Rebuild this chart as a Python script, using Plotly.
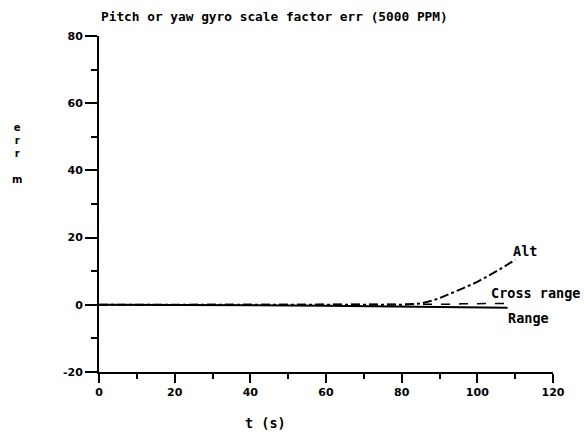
import plotly.graph_objects as go

t = [0, 10, 20, 30, 40, 50, 60, 70, 80, 85, 88, 90, 93, 96, 100, 103, 106, 108, 110]
range_err = [0, 0, 0, 0, -0.1, -0.2, -0.3, -0.4, -0.5, -0.5, -0.6, -0.6, -0.7, -0.7, -0.8, -0.8, -0.9, -0.9, None]
cross_err = [0, 0, 0, 0, 0, 0, 0, 0, 0.1, 0.1, 0.2, 0.2, 0.2, 0.3, 0.3, 0.3, 0.4, 0.4, None]
alt_err = [0, 0, 0, 0, 0, 0, 0, 0, 0, 0.4, 1.2, 2.0, 3.3, 4.8, 6.8, 8.6, 10.6, 12.0, 13.4]

mono = "DejaVu Sans Mono, monospace"
sans = "DejaVu Sans, Liberation Sans, sans-serif"
label_font = dict(family=mono, size=13.5, color="black")
title_font = dict(family=mono, size=12.8, color="black")
tick_font = dict(family=sans, size=11, color="black")

fig = go.Figure()
fig.add_trace(go.Scatter(x=t, y=range_err, mode="lines",
                         line=dict(color="black", width=2, dash="solid"), name="Range"))
fig.add_trace(go.Scatter(x=t, y=cross_err, mode="lines",
                         line=dict(color="black", width=1.5, dash="dash"), name="Cross range"))
fig.add_trace(go.Scatter(x=t, y=alt_err, mode="lines",
                         line=dict(color="black", width=2, dash="dashdot"), name="Alt"))

labels = [("Alt", 109, 16), ("Cross range", 103, 3.5), ("Range", 107.5, -3.8)]
for txt, x, y in labels:
    fig.add_annotation(x=x, y=y, text="<b>%s</b>" % txt, showarrow=False,
                       xanchor="left", yanchor="middle", font=label_font)

fig.add_annotation(xref="paper", yref="paper", x=0.0, y=1.057, text="<b>Pitch or yaw gyro scale factor err (5000 PPM)</b>",
                   showarrow=False, xanchor="left", yanchor="middle", font=title_font)
fig.add_annotation(xref="paper", yref="paper", x=0.366, y=-0.152, text="<b>t (s)</b>",
                   showarrow=False, xanchor="center", yanchor="middle", font=label_font)
fig.add_annotation(xref="paper", yref="paper", x=-0.18, y=0.65,
                   text="<b>e<br>r<br>r<br><br>m</b>", showarrow=False,
                   xanchor="center", yanchor="middle", font=dict(family=sans, size=10, color="black"))

axis_common = dict(showline=True, linecolor="black", linewidth=2, showgrid=False, zeroline=False,
                   ticks="outside", tickcolor="black", tickwidth=2, tickfont=tick_font, automargin=False)

fig.update_xaxes(range=[0, 120], tickvals=[0, 20, 40, 60, 80, 100, 120],
                 ticktext=["<b>%d</b>" % v for v in [0, 20, 40, 60, 80, 100, 120]],
                 ticklen=9,
                 minor=dict(ticks="outside", tickvals=[10, 30, 50, 70, 90, 110], ticklen=5, tickcolor="black", tickwidth=2),
                 **axis_common)
fig.update_yaxes(range=[-20, 80], tickvals=[-20, 0, 20, 40, 60, 80],
                 ticktext=["<b>%d</b>" % v for v in [-20, 0, 20, 40, 60, 80]],
                 ticklen=12,
                 minor=dict(ticks="outside", tickvals=[-10, 10, 30, 50, 70], ticklen=6, tickcolor="black", tickwidth=2),
                 **axis_common)

fig.update_layout(width=584, height=436, margin=dict(l=99, r=31, t=36, b=64),
                  plot_bgcolor="white", paper_bgcolor="white", showlegend=False)

fig.write_html("out.html")
